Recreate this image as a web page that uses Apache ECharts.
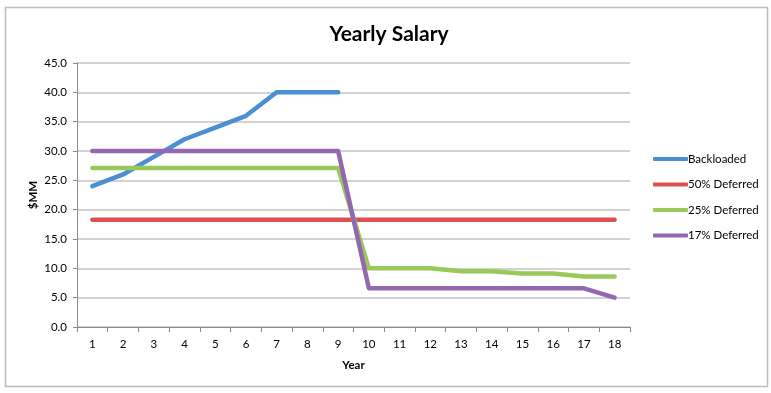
<!DOCTYPE html>
<html><head><meta charset="utf-8">
<script src="https://cdn.jsdelivr.net/npm/echarts@6/dist/echarts.min.js"></script>
<style>html,body{margin:0;padding:0;background:#fff}#c{width:771px;height:393px}</style>
</head><body><div id="c"></div>
<script>
const years = ['1','2','3','4','5','6','7','8','9','10','11','12','13','14','15','16','17','18'];
const backloaded = [24, 26, 29, 32, 34, 36, 40, 40, 40, null, null, null, null, null, null, null, null, null];
const deferred50 = [18.3, 18.3, 18.3, 18.3, 18.3, 18.3, 18.3, 18.3, 18.3, 18.3, 18.3, 18.3, 18.3, 18.3, 18.3, 18.3, 18.3, 18.3];
const deferred25 = [27.1, 27.1, 27.1, 27.1, 27.1, 27.1, 27.1, 27.1, 27.1, 10, 10, 10, 9.5, 9.5, 9.1, 9.1, 8.6, 8.6];
const deferred17 = [30, 30, 30, 30, 30, 30, 30, 30, 30, 6.6, 6.6, 6.6, 6.6, 6.6, 6.6, 6.6, 6.6, 5];
const seriesNames = ['Backloaded', '50% Deferred', '25% Deferred', '17% Deferred'];
const colors = ['#4a8fd2', '#dc5150', '#99c95a', '#9468b0'];

const font = 'Lato, "Open Sans", sans-serif';
const chart = echarts.init(document.getElementById('c'));
const mk = (name, data, i) => ({
  name, type: 'line', data, symbol: 'none', smooth: false,
  lineStyle: { width: 4.5, color: colors[i], cap: 'round', join: 'round' },
  itemStyle: { color: colors[i] }
});
chart.setOption({
  animation: false,
  backgroundColor: '#fff',
  color: colors,
  title: { text: 'Yearly Salary', left: 384, top: 19, textAlign: 'center',
    textStyle: { fontFamily: font, fontSize: 21, fontWeight: 'bold', color: '#000' } },
  graphic: [{ type: 'rect', shape: { x: 5.5, y: 7.5, width: 762, height: 379 },
    style: { fill: 'none', stroke: '#bdbdbd', lineWidth: 1.5 }, z: -1 }],
  legend: {
    orient: 'vertical', left: 648, top: 148, itemGap: 13.5,
    itemWidth: 35, itemHeight: 4, icon: 'roundRect',
    textStyle: { fontFamily: font, fontSize: 11.5, color: '#000', padding: [0, 0, 0, -5] },
    data: seriesNames
  },
  grid: { left: 77, right: 141, top: 63, bottom: 66 },
  xAxis: {
    type: 'category', data: years, boundaryGap: true,
    name: 'Year', nameLocation: 'middle', nameGap: 32,
    nameTextStyle: { fontFamily: font, fontSize: 11.5, fontWeight: 'bold', color: '#000' },
    axisLine: { lineStyle: { color: '#8c8c8c', width: 1 } },
    axisTick: { show: true, alignWithLabel: false, length: 5, lineStyle: { color: '#8c8c8c' } },
    axisLabel: { fontFamily: font, fontSize: 11.5, color: '#000', margin: 11 }
  },
  yAxis: {
    type: 'value', min: 0, max: 45, interval: 5,
    name: '$MM', nameLocation: 'middle', nameGap: 38, nameRotate: 90, nameMoveOverlap: false,
    nameTextStyle: { fontFamily: font, fontSize: 11.5, fontWeight: 'bold', color: '#000' },
    axisLine: { show: true, lineStyle: { color: '#8c8c8c', width: 1 } },
    axisTick: { show: true, length: 4, lineStyle: { color: '#8c8c8c' } },
    axisLabel: { fontFamily: font, fontSize: 11.5, color: '#000', margin: 10,
      formatter: v => v.toFixed(1) },
    splitLine: { lineStyle: { color: '#c4c4c4', width: 1.6 } }
  },
  series: [
    mk(seriesNames[0], backloaded, 0),
    mk(seriesNames[1], deferred50, 1),
    mk(seriesNames[2], deferred25, 2),
    mk(seriesNames[3], deferred17, 3)
  ]
});
</script></body></html>
